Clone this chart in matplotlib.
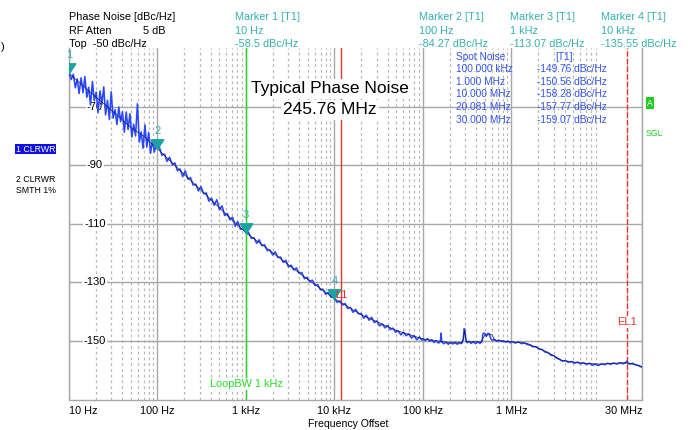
import matplotlib
matplotlib.use("Agg")
import matplotlib.pyplot as plt
import matplotlib.transforms as mtransforms
from matplotlib.path import Path
from matplotlib.ticker import LogLocator, NullFormatter

plt.rcParams['font.family'] = ['Liberation Sans', 'DejaVu Sans']

# trace 1 (clear/write, raw) : offset frequency in Hz, level in dBc/Hz
trace1_freq = [10, 10.6, 11.2, 11.8, 12.4, 13.0, 13.7, 14.4, 15.1, 15.9, 16.7, 17.5, 18.4, 19.3,
               20.3, 21.3, 22.4, 23.5, 24.7, 25.9, 27.2, 28.6, 30.0, 31.5, 33.1, 34.8, 36.5, 38.3,
               40.2, 42.2, 44.3, 46.5, 48.8, 51.3, 53.8, 56.5, 59.3, 62.3, 65.4, 68.7, 72.1, 75.7,
               79.5, 83.5, 87.7, 92.1, 96.7, 100,
               105, 112, 120, 128, 137, 147, 157, 168, 180, 193, 206, 221, 236, 253, 271, 290, 310,
               332, 356, 381, 408, 437, 468, 501, 536, 574, 615, 658, 705, 755, 808, 865, 926, 1000,
               1070, 1150, 1230, 1320, 1410, 1510, 1620, 1740, 1860, 2000, 2140, 2290, 2460, 2630,
               2820, 3020, 3240, 3470, 3720, 3980, 4270, 4570, 4900, 5250, 5620, 6030, 6460, 6920,
               7410, 7940, 8510, 9120, 9770, 10000,
               10700, 11500, 12300, 13200, 14100, 15100, 16200, 17400, 18600, 20000, 21400, 22900,
               24600, 26300, 28200, 30200, 32400, 34700, 37200, 39800, 42700, 45700, 49000, 52500,
               56200, 60300, 64600, 69200, 74100, 79400, 85100, 91200, 97700,
               1.00e5, 1.06e5, 1.12e5, 1.19e5, 1.26e5, 1.33e5, 1.41e5, 1.50e5, 1.57e5, 1.60e5,
               1.63e5, 1.72e5, 1.82e5, 1.93e5, 2.05e5, 2.17e5, 2.30e5, 2.44e5, 2.58e5, 2.72e5,
               2.85e5, 2.92e5, 2.98e5, 3.05e5, 3.15e5, 3.30e5, 3.50e5, 3.70e5, 3.92e5, 4.15e5,
               4.40e5, 4.66e5, 4.75e5, 4.90e5, 5.05e5, 5.20e5, 5.40e5, 5.60e5, 5.85e5, 6.10e5,
               6.40e5, 6.80e5, 7.20e5, 7.65e5, 8.10e5, 8.60e5, 9.10e5, 9.65e5,
               1.02e6, 1.10e6, 1.20e6, 1.30e6, 1.40e6, 1.50e6, 1.62e6, 1.75e6, 1.90e6, 2.05e6,
               2.22e6, 2.40e6, 2.60e6, 2.80e6, 3.00e6, 3.25e6, 3.50e6, 3.75e6, 4.05e6, 4.40e6,
               4.75e6, 5.15e6, 5.55e6, 6.00e6, 6.50e6, 7.00e6, 7.60e6, 8.20e6, 8.90e6, 9.60e6,
               1.04e7, 1.13e7, 1.22e7, 1.32e7, 1.43e7, 1.55e7, 1.68e7, 1.82e7, 1.96e7, 2.01e7,
               2.07e7, 2.20e7, 2.35e7, 2.50e7, 2.67e7, 2.84e7, 3.00e7]
trace1_level = [-58.5, -60.6, -58.8, -63.4, -60.4, -65.4, -60.0, -65.1, -59.6, -66.7, -63.3, -69.3,
                -61.3, -67.9, -64.9, -72.0, -64.5, -69.1, -63.1, -72.7, -67.7, -74.3, -64.8, -73.8,
                -70.9, -76.0, -70.0, -75.0, -71.6, -78.6, -71.7, -77.7, -72.3, -80.3, -75.9, -79.9,
                -68.9, -82.0, -78.5, -84.1, -76.1, -83.7, -78.7, -85.8, -81.3, -85.4, -82.9, -84.3,
                -83.7, -86.5, -86.1, -88.6, -87.2, -89.7, -89.1, -91.8, -91.2, -93.8, -91.8, -94.7,
                -94.1, -96.7, -96.4, -98.7, -97.2, -99.6, -99.4, -102.2, -101.2, -103.6, -101.7,
                -105.1, -103.8, -107.1, -106.4, -108.6, -107.7, -110.8, -109.2, -111.8, -111.7, -113.0,
                -112.9, -114.9, -114.7, -116.6, -115.4, -117.4, -117.1, -119.1, -118.9, -120.6,
                -119.5, -121.4, -121.3, -123.1, -122.4, -124.7, -124.1, -125.7, -125.0, -126.8,
                -126.6, -128.7, -128.2, -129.7, -129.2, -131.0, -130.7, -132.5, -132.3, -134.0,
                -133.4, -135.0, -135.1, -135.5,
                -136.8, -136.3, -137.7, -137.2, -138.9, -138.5, -140.2, -139.2, -140.7, -140.6,
                -142.2, -141.2, -142.9, -141.9, -143.7, -143.1, -144.8, -144.2, -145.5, -144.7,
                -146.1, -145.6, -147.0, -146.5, -147.9, -147.0, -148.2, -147.5, -149.0, -148.2,
                -149.6, -148.6, -149.7,
                -149.3, -149.9, -149.2, -150.1, -149.6, -150.5, -150.0, -150.7, -150.2, -147.3,
                -150.4, -150.9, -150.4, -151.1, -150.6, -151.0, -150.5, -151.1, -150.6, -150.9,
                -149.5, -145.8, -146.2, -149.8, -150.6, -150.1, -150.8, -150.2, -150.9, -150.3,
                -150.8, -150.2, -147.6, -147.3, -147.6, -148.4, -147.4, -147.5, -149.3, -149.8,
                -149.4, -150.1, -149.7, -150.2, -149.9, -150.4, -150.0, -150.6,
                -150.2, -150.7, -150.3, -150.9, -150.6, -151.2, -151.4, -152.0, -151.9, -152.8,
                -152.9, -153.8, -154.0, -154.9, -155.0, -155.9, -156.3, -156.9, -156.7, -157.3,
                -157.0, -157.6, -157.2, -157.8, -157.4, -158.0, -157.6, -158.3, -157.9, -158.4,
                -157.8, -158.1, -157.6, -158.0, -157.5, -157.9, -157.4, -157.8, -157.5, -156.9,
                -157.6, -157.9, -157.6, -158.1, -158.3, -158.7, -159.0]

# trace 2 (smoothed 1%)
trace2_freq = [10, 20, 30, 50, 70, 100, 200, 500, 1e3, 2e3, 5e3, 1e4, 2e4, 5e4, 1e5, 1.5e5,
               2e5, 2.8e5, 2.95e5, 3.1e5, 4.5e5, 5e5, 6e5, 6.5e5, 1e6, 1.5e6, 2.5e6, 3.7e6,
               6e6, 1e7, 2e7, 3e7]
trace2_level = [-58.5, -66.5, -71.0, -77.0, -80.0, -84.3, -93.0, -104.4, -113.0, -119.8, -129.0,
                -135.5, -141.0, -146.4, -149.3, -150.0, -150.6, -150.6, -146.5, -150.3, -150.3,
                -148.0, -147.8, -149.8, -150.3, -150.8, -153.7, -156.6, -157.5, -157.9, -157.4,
                -158.7]

marker_freq = [10, 100, 1e3, 1e4]
marker_level = [-58.5, -84.27, -113.07, -135.55]
marker_freq_txt = ['10 Hz', '100 Hz', '1 kHz', '10 kHz']

spot_freq_txt = ['100.000 kHz', '1.000 MHz', '10.000 MHz', '20.081 MHz', '30.000 MHz']
spot_level = [-149.76, -150.56, -158.28, -157.77, -159.07]

xtick_vals = [10, 100, 1e3, 1e4, 1e5, 1e6, 3e7]
xtick_txt = ['10 Hz', '100 Hz', '1 kHz', '10 kHz', '100 kHz', '1 MHz', '30 MHz']
ygrid_vals = [-70, -90, -110, -130, -150]

W, H = 696, 430
fig = plt.figure(figsize=(W / 100, H / 100), dpi=100)
ax = fig.add_axes([69 / W, 1 - 399.5 / H, 573.2 / W, 351 / H])


def fx(x):
    return x / W


def fy(y):
    return 1 - y / H


teal = '#35b0b0'
blue_txt = '#3355ee'
red = '#e8352a'
green = '#22dd22'
gray = '#a8a8a8'

ax.set_xscale('log')
ax.set_xlim(10, 3e7)
ax.set_ylim(-170, -50)

ax.set_xticks(xtick_vals)
ax.set_xticklabels(xtick_txt, fontsize=7.8)
ax.xaxis.set_minor_locator(LogLocator(base=10, subs=range(2, 10), numticks=20))
ax.xaxis.set_minor_formatter(NullFormatter())
ax.tick_params(axis='x', which='both', length=0, pad=5)
labels = ax.get_xticklabels()
labels[0].set_ha('left')
labels[-1].set_ha('right')
ax.set_yticks(ygrid_vals)
ax.tick_params(axis='y', length=0, labelleft=False)

ax.grid(which='major', axis='x', color=gray, lw=1.0, ls='-')
ax.grid(which='minor', axis='x', color='#b8b8b8', lw=0.9, ls=(0, (2.2, 2.4)))
ax.grid(which='major', axis='y', color=gray, lw=1.0, ls='-')
ax.set_axisbelow(True)
for s in ['left', 'right', 'bottom']:
    ax.spines[s].set_color(gray)
    ax.spines[s].set_linewidth(1.0)
ax.spines['top'].set_visible(False)

# y labels drawn inside the grid
ytr = mtransforms.blended_transform_factory(ax.transAxes, ax.transData)
for v in ygrid_vals:
    ax.text(0.045, v, str(v), transform=ytr, ha='center', va='center', fontsize=8,
            bbox=dict(facecolor='white', edgecolor='none', pad=0.8), zorder=3)

# display lines
ax.axvline(1e3, color=green, lw=1.0, zorder=2)
ax.axvline(1.17e4, color=red, lw=1.0, zorder=2)
ax.axvline(2.01e7, color=red, lw=1.0, ls=(0, (4, 1.5)), zorder=2)

# traces
ax.plot(trace1_freq, trace1_level, color='#2a48ff', lw=1.15, zorder=4)
ax.plot(trace2_freq, trace2_level, color='#181850', lw=0.5, zorder=5)

# markers: downward triangles with tip on the trace
tri = Path([(-1, 1.54), (1, 1.54), (0, 0), (-1, 1.54)],
           [Path.MOVETO, Path.LINETO, Path.LINETO, Path.CLOSEPOLY])
ax.plot(marker_freq, marker_level, ls='none', marker=tri, markersize=14,
        color='#1aa3a3', zorder=6)
for i, (f, l) in enumerate(zip(marker_freq, marker_level)):
    ax.annotate(str(i + 1), (f, l), xytext=(0, 13), textcoords='offset points',
                ha='center', va='center', color=teal, fontsize=8, zorder=6)

ax.text(1.2e4, -134.3, 'L1', color=red, fontsize=8, ha='center', va='center', zorder=6)
ax.text(2.01e7, -143.5, 'EL1', color=red, fontsize=8, ha='center', va='center', zorder=6,
        bbox=dict(facecolor='white', edgecolor='none', pad=0.5))
ax.text(1e3, -164.7, 'LoopBW 1 kHz', color=green, fontsize=7.8, ha='center', va='center',
        zorder=6, bbox=dict(facecolor='white', edgecolor='none', pad=0.5))

# title box
ttr = mtransforms.blended_transform_factory(ax.transAxes, fig.transFigure)
ax.text(0.4550, fy(89), 'Typical Phase Noise', transform=ttr, ha='center', va='center',
        fontsize=12.5, bbox=dict(facecolor='white', edgecolor='none', pad=1.5), zorder=7)
ax.text(0.4550, fy(110), '245.76 MHz', transform=ttr, ha='center', va='center',
        fontsize=12.5, bbox=dict(facecolor='white', edgecolor='none', pad=1.5), zorder=7)

# spot noise table
fig.text(fx(456), fy(57), 'Spot Noise', color=blue_txt, fontsize=7.3, va='center')
fig.text(fx(573), fy(57), '[T1]', color=blue_txt, fontsize=7.3, va='center', ha='right')
for i, (ft, lv) in enumerate(zip(spot_freq_txt, spot_level)):
    y = 69 + i * 12.7
    fig.text(fx(456), fy(y), ft, color=blue_txt, fontsize=7.3, va='center')
    fig.text(fx(537), fy(y), '%.2f dBc/Hz' % lv, color=blue_txt, fontsize=7.3, va='center')

# header
hs = 7.8
fig.text(fx(69), fy(17), 'Phase Noise [dBc/Hz]', fontsize=hs, va='center')
fig.text(fx(69), fy(31), 'RF Atten', fontsize=hs, va='center')
fig.text(fx(143), fy(31), '5 dB', fontsize=hs, va='center')
fig.text(fx(69), fy(44), 'Top  -50 dBc/Hz', fontsize=hs, va='center')
for i, x0 in enumerate([235, 419, 510, 601]):
    fig.text(fx(x0), fy(17), 'Marker %d [T1]' % (i + 1), color=teal, fontsize=hs, va='center')
    fig.text(fx(x0), fy(31), marker_freq_txt[i], color=teal, fontsize=hs, va='center')
    fig.text(fx(x0), fy(44), '%g dBc/Hz' % marker_level[i], color=teal, fontsize=hs,
             va='center')

# side annotations
fig.text(fx(1), fy(47), ')', fontsize=8, va='center')
fig.text(fx(16), fy(149), '1 CLRWR', color='white', fontsize=6.3, va='center',
         bbox=dict(facecolor='#1010e0', edgecolor='none', pad=0.6))
fig.text(fx(16), fy(179), '2 CLRWR', fontsize=6.3, va='center')
fig.text(fx(16), fy(191), 'SMTH 1%', fontsize=6.3, va='center')
fig.text(fx(650), fy(103), 'A', color='white', fontsize=6.3, va='center', ha='center',
         bbox=dict(facecolor='#22cc22', edgecolor='none', pad=0.8))
fig.text(fx(654), fy(134), 'SGL', color='#22cc22', fontsize=6.3, va='center', ha='center')
fig.text(fx(348), fy(424), 'Frequency Offset', fontsize=7.6, va='center', ha='center')

fig.savefig('out.png', dpi=100, facecolor='white')
